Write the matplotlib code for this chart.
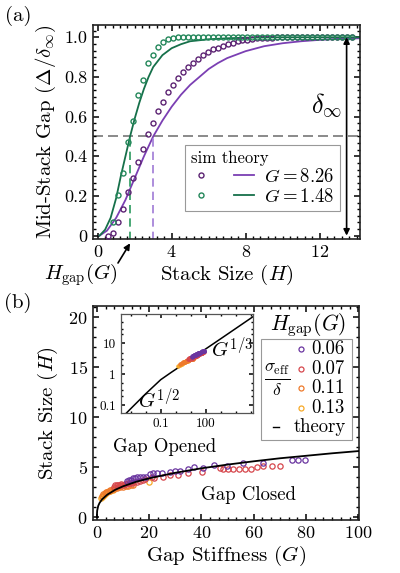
import matplotlib
matplotlib.use("Agg")
import matplotlib.pyplot as plt
from matplotlib.legend_handler import HandlerTuple
from matplotlib.lines import Line2D
from matplotlib.patches import Rectangle
from matplotlib.ticker import MultipleLocator, FixedLocator, NullFormatter

plt.rcParams['font.family'] = ['cmr10', 'DejaVu Serif']
plt.rcParams['mathtext.fontset'] = 'cm'
plt.rcParams['axes.formatter.use_mathtext'] = True
plt.rcParams['axes.unicode_minus'] = False

# ---------------- Panel (a) data ----------------
purple_H = [0.54, 0.81, 1.08, 1.35, 1.62, 1.89, 2.16, 2.43, 2.70, 2.97, 3.24, 3.51, 3.78, 4.05,
            4.32, 4.59, 4.86, 5.13, 5.40, 5.67, 5.94, 6.21, 6.48, 6.75, 7.02, 7.29, 7.56, 7.83,
            8.10, 8.37, 8.64, 8.91, 9.18, 9.45, 9.72, 9.99, 10.26, 10.53, 10.80, 11.07, 11.34,
            11.61, 11.88, 12.15, 12.42, 12.69, 12.96, 13.23, 13.50, 13.77]
purple_gap = [0.0, 0.015, 0.067, 0.133, 0.220, 0.291, 0.373, 0.439, 0.511, 0.567, 0.630, 0.676,
              0.723, 0.760, 0.793, 0.823, 0.849, 0.872, 0.892, 0.912, 0.927, 0.939, 0.948, 0.958,
              0.966, 0.973, 0.979, 0.984, 0.988, 0.991, 0.994, 0.996, 0.997, 0.998, 0.999, 1.0,
              1.0, 1.0, 1.0, 1.0, 1.0, 1.0, 1.0, 1.0, 1.0, 1.0, 1.0, 1.0, 1.0, 1.0]
green_H = [0.81, 1.08, 1.35, 1.62, 1.89, 2.16, 2.43, 2.70, 2.97, 3.24, 3.51, 3.78, 4.05,
           4.32, 4.59, 4.86, 5.13, 5.40, 5.67, 5.94, 6.21, 6.48, 6.75, 7.02, 7.29, 7.56, 7.83,
           8.10, 8.37, 8.64, 8.91, 9.18, 9.45, 9.72, 9.99, 10.26, 10.53, 10.80, 11.07, 11.34,
           11.61, 11.88, 12.15, 12.42, 12.69, 12.96, 13.23, 13.50, 13.77]
green_gap = [0.071, 0.205, 0.314, 0.474, 0.578, 0.708, 0.783, 0.869, 0.911, 0.953, 0.976, 0.990,
             0.997, 1.0, 1.0, 1.0, 1.0, 1.0, 1.0, 1.0, 1.0, 1.0, 1.0, 1.0, 1.0, 1.0, 1.0, 1.0,
             1.0, 1.0, 1.0, 1.0, 1.0, 1.0, 1.0, 1.0, 1.0, 1.0, 1.0, 1.0, 1.0, 1.0, 1.0, 1.0,
             1.0, 1.0, 1.0, 1.0, 1.0]
purple_th_H = [0.1, 0.5, 1.0, 1.5, 2.0, 2.5, 3.0, 3.5, 4.0, 4.5, 5.0, 5.5, 6.0, 6.5, 7.0, 8.0,
               9.0, 10.0, 11.0, 12.0, 13.0, 14.2]
purple_th = [0.0, 0.025, 0.09, 0.18, 0.29, 0.40, 0.50, 0.58, 0.65, 0.71, 0.76, 0.80, 0.84, 0.87,
             0.895, 0.93, 0.955, 0.97, 0.98, 0.987, 0.992, 0.995]
green_th_H = [0.1, 0.4, 0.7, 1.0, 1.25, 1.5, 1.75, 2.0, 2.25, 2.5, 2.75, 3.0, 3.5, 4.0, 4.5,
              5.0, 6.0, 7.0, 8.0, 10.0, 12.0, 14.2]
green_th = [0.0, 0.03, 0.09, 0.19, 0.30, 0.40, 0.50, 0.59, 0.67, 0.74, 0.80, 0.85, 0.91, 0.945,
            0.965, 0.98, 0.99, 0.995, 0.998, 1.0, 1.0, 1.0]
G_values = ['8.26', '1.48']
Hgap_purple = 2.98
Hgap_green = 1.75

# ---------------- Panel (b) data ----------------
p06_G = [11.5, 12.4, 13.2, 13.9, 14.6, 15.2, 16.5, 17.7, 18.8, 20.3, 21.6, 23.0, 24.8, 27.9,
         29.9, 31.8, 34.9, 37.2, 40.7, 44.8, 49.6, 56.0, 63.6, 74.5, 77.0, 79.6]
p06_H = [3.6, 3.73, 3.75, 3.9, 3.9, 4.06, 4.06, 4.06, 4.06, 4.3, 4.4, 4.4, 4.4, 4.56,
         4.66, 4.66, 4.83, 5.0, 4.93, 5.2, 5.16, 5.46, 5.45, 5.73, 5.73, 5.73]
p07_G = [6.5, 7.0, 7.5, 8.2, 8.8, 9.4, 10.0, 10.7, 11.3, 12.0, 12.6, 13.5, 14.2, 15.2, 16.5,
         17.7, 18.4, 20.9, 22.0, 25.4, 27.9, 31.1, 34.9, 40.1, 47.1, 48.3, 50.0, 52.2, 54.3,
         56.6, 58.8, 61.1, 63.6, 66.9, 70.0]
p07_H = [3.0, 3.2, 3.23, 3.23, 3.25, 3.3, 3.2, 3.3, 3.35, 3.4, 3.4, 3.45, 3.5, 3.56, 3.6,
         3.73, 3.8, 4.0, 3.9, 4.0, 4.23, 4.23, 4.46, 4.56, 4.9, 4.83, 4.83, 4.83, 4.83,
         4.83, 4.83, 5.06, 5.13, 5.1, 5.1]
p11_G = [2.0, 2.5, 3.0, 3.5, 4.0, 4.5, 5.0, 5.5, 6.0, 6.5, 7.0, 7.5, 8.0, 9.0, 10.0, 11.0,
         12.0, 13.0, 14.0]
p11_H = [2.1, 2.3, 2.4, 2.5, 2.55, 2.6, 2.7, 2.75, 2.8, 2.8, 2.9, 2.95, 3.0, 3.0, 3.05, 3.1,
         3.1, 3.2, 3.2]
p13_G = [1.5, 2.0, 2.3, 2.7, 3.0, 3.5, 4.0, 4.5, 5.0, 6.0, 20.0]
p13_H = [1.9, 2.0, 2.1, 2.2, 2.3, 2.4, 2.5, 2.6, 2.6, 2.7, 3.5]
theory_G = [1e-4, 1e-3, 1e-2, 0.1, 0.5, 1, 2, 4, 7, 10, 15, 20, 30, 40, 50, 60, 70, 80, 90,
            100, 1e3, 1e4, 1e5, 3e5]
theory_H = [0.024, 0.075, 0.23, 0.66, 1.14, 1.43, 1.8, 2.27, 2.75, 3.1, 3.55, 3.9, 4.45, 4.9,
            5.27, 5.6, 5.9, 6.15, 6.4, 6.62, 14.2, 30.6, 66.0, 95.0]
sigma_labels = ['0.06', '0.07', '0.11', '0.13']

c_purple_sim = '#5c2373'
c_purple_th = '#7b3fb3'
c_purple_dash = '#a07ad6'
c_green_sim = '#23875a'
c_green_th = '#16704a'
c_green_dash = '#2a9a5e'
sig_colors = ['#6a35a0', '#d6474d', '#ee7a2c', '#f7a928']

fig = plt.figure(figsize=(4.0, 5.73), dpi=100)


def style_frame(ax, lw=1.2, color='#222222'):
    for s in ax.spines.values():
        s.set_linewidth(lw)
        s.set_color(color)
    ax.tick_params(which='both', direction='in', top=True, right=True, colors='black',
                   labelsize=13)
    ax.tick_params(which='major', length=4, width=1.1)
    ax.tick_params(which='minor', length=2, width=1.0)


# ================= Panel (a) =================
axa = fig.add_axes([0.2318, 0.5829, 0.668, 0.3735])
axa.plot(purple_H, purple_gap, 'o', ms=3.6, mfc='none', mec=c_purple_sim, mew=1.0, zorder=3)
axa.plot(green_H, green_gap, 'o', ms=3.6, mfc='none', mec=c_green_sim, mew=1.0, zorder=3)
lp, = axa.plot(purple_th_H, purple_th, '-', color=c_purple_th, lw=1.3, zorder=2)
lg, = axa.plot(green_th_H, green_th, '-', color=c_green_th, lw=1.3, zorder=2)
axa.axhline(0.5, color='#777777', ls=(0, (6, 3)), lw=1.2, zorder=1)
axa.plot([Hgap_green, Hgap_green], [-0.02, 0.5], color=c_green_dash, ls=(0, (5, 3)), lw=1.2)
axa.plot([Hgap_purple, Hgap_purple], [-0.02, 0.5], color=c_purple_dash, ls=(0, (5, 3)), lw=1.2)
axa.annotate('', xy=(13.46, 0.0), xytext=(13.46, 1.0),
             arrowprops=dict(arrowstyle='<|-|>', color='black', lw=1.2, mutation_scale=9,
                             shrinkA=0, shrinkB=0))
axa.text(12.35, 0.66, r'$\delta_\infty$', fontsize=19, ha='center', va='center')
axa.set_xlim(-0.27, 14.18)
axa.set_ylim(-0.017, 1.062)
axa.xaxis.set_major_locator(FixedLocator([0, 4, 8, 12]))
axa.xaxis.set_minor_locator(MultipleLocator(0.4))
axa.yaxis.set_major_locator(FixedLocator([0, 0.2, 0.4, 0.6, 0.8, 1.0]))
axa.yaxis.set_minor_locator(MultipleLocator(0.2 / 6))
axa.set_yticklabels(['0', '0.2', '0.4', '0.6', '0.8', '1.0'])
style_frame(axa)
axa.set_xlabel(r'Stack Size $(H)$', fontsize=15, labelpad=2)
axa.set_ylabel(r'Mid-Stack Gap $(\Delta/\delta_\infty)$', fontsize=15, labelpad=5)

ms_p = Line2D([], [], ls='none', marker='o', ms=3.6, mfc='none', mec=c_purple_sim, mew=1.0)
ms_g = Line2D([], [], ls='none', marker='o', ms=3.6, mfc='none', mec=c_green_sim, mew=1.0)
leg = axa.legend([(ms_p, lp), (ms_g, lg)], [r'$G = %s$' % G_values[0], r'$G = %s$' % G_values[1]],
                 handler_map={tuple: HandlerTuple(ndivide=None, pad=1.2)},
                 loc='lower left', bbox_to_anchor=(0.31, 0.085), fontsize=13.5,
                 title='sim theory', title_fontsize=12, alignment='left',
                 handlelength=3.4, handletextpad=0.5, borderpad=0.3, labelspacing=0.1,
                 frameon=True, fancybox=False, framealpha=1, edgecolor='#999999')
leg.get_frame().set_linewidth(0.8)

# H_gap arrow + label
fig.text(80.6 / 400, 1 - 275 / 573, r'$H_{\rm gap}(G)$', fontsize=15, ha='center', va='center')
axa.annotate('', xy=(Hgap_green, -0.02), xycoords=('data', 'axes fraction'),
             xytext=(118 / 400, 1 - 263 / 573), textcoords='figure fraction',
             arrowprops=dict(arrowstyle='-|>', color='black', lw=1.2, mutation_scale=9,
                             shrinkA=0, shrinkB=0))
fig.text(18 / 400, 1 - 16 / 573, '(a)', fontsize=15, ha='center', va='center')

# ================= Panel (b) =================
axb = fig.add_axes([0.2318, 0.0925, 0.6665, 0.3735])
axb.plot(theory_G, theory_H, '-', color='black', lw=1.3, zorder=4)
series = [(p06_G, p06_H), (p07_G, p07_H), (p11_G, p11_H), (p13_G, p13_H)]
for (gx, hy), col in list(zip(series, sig_colors))[::-1]:
    axb.plot(gx, hy, 'o', ms=3.8, mfc='none', mec=col, mew=0.9, zorder=3)
axb.set_xlim(-1.6, 100.4)
axb.set_ylim(-0.27, 21.13)
axb.xaxis.set_major_locator(FixedLocator([0, 20, 40, 60, 80, 100]))
axb.xaxis.set_minor_locator(MultipleLocator(20 / 6))
axb.yaxis.set_major_locator(FixedLocator([0, 5, 10, 15, 20]))
axb.yaxis.set_minor_locator(MultipleLocator(1))
style_frame(axb)
axb.set_xlabel(r'Gap Stiffness $(G)$', fontsize=15, labelpad=2)
axb.set_ylabel(r'Stack Size $(H)$', fontsize=15, labelpad=6)
axb.text(0.583, 0.117, 'Gap Closed', fontsize=13.5, ha='center', va='center',
         transform=axb.transAxes)
axb.text(0.271, 0.342, 'Gap Opened', fontsize=13.5, ha='center', va='center',
         transform=axb.transAxes)
fig.text(18 / 400, 1 - 303 / 573, '(b)', fontsize=15, ha='center', va='center')

# legend (b) drawn by hand
axb.add_patch(Rectangle((0.630, 0.374), 0.342, 0.470, transform=axb.transAxes,
                        fill=True, facecolor='white', edgecolor='#999999', lw=0.8, zorder=5))
axb.text(0.808, 0.911, r'$H_{\rm gap}(G)$', fontsize=15.5, ha='center', va='center',
         transform=axb.transAxes, zorder=6)
rows_y = [0.798, 0.704, 0.615, 0.522]
for lab, col, yy in zip(sigma_labels, sig_colors, rows_y):
    axb.plot([0.780], [yy], 'o', ms=3.6, mfc='none', mec=col, mew=0.9,
             transform=axb.transAxes, zorder=6)
    axb.text(0.818, yy, lab, fontsize=13.5, ha='left', va='center',
             transform=axb.transAxes, zorder=6)
axb.plot([0.675, 0.700], [0.436, 0.436], color='black', lw=1.0, transform=axb.transAxes,
         zorder=6)
axb.text(0.752, 0.436, 'theory', fontsize=13.5, ha='left', va='center',
         transform=axb.transAxes, zorder=6)
axb.text(0.690, 0.654, r'$\frac{\sigma_{\rm eff}}{\delta}$', fontsize=18, ha='center',
         va='center', transform=axb.transAxes, zorder=6)

# ================= Inset =================
axi = fig.add_axes([0.302, 0.2798, 0.3315, 0.1723])
axi.plot(theory_G, theory_H, '-', color='black', lw=1.1, zorder=2)
for (gx, hy), col in list(zip(series, sig_colors))[::-1]:
    axi.plot(gx, hy, 'o', ms=2.4, mfc=col, mec=col, mew=0.8, zorder=3)
axi.set_xscale('log')
axi.set_yscale('log')
axi.set_xlim(10 ** -3.65, 10 ** 5.15)
axi.set_ylim(10 ** -1.25, 10 ** 1.95)
axi.xaxis.set_major_locator(FixedLocator([0.1, 100]))
axi.xaxis.set_minor_locator(FixedLocator([1e-3, 1e-2, 1, 10, 1e3, 1e4, 1e5]))
axi.xaxis.set_minor_formatter(NullFormatter())
axi.yaxis.set_major_locator(FixedLocator([0.1, 1, 10]))
axi.yaxis.set_minor_locator(FixedLocator([0.2, 0.3, 0.5, 2, 3, 5, 20, 30, 50]))
axi.yaxis.set_minor_formatter(NullFormatter())
axi.set_xticklabels(['0.1', '100'])
axi.set_yticklabels(['0.1', '1', '10'])
style_frame(axi, lw=0.9, color='#555555')
axi.tick_params(which='both', labelsize=9.5)
axi.tick_params(which='major', length=3)
axi.tick_params(which='minor', length=1.5)
axi.text(0.29, 0.13, r'$G^{1/2}$', fontsize=15, ha='center', va='center',
         transform=axi.transAxes)
axi.text(0.84, 0.645, r'$G^{1/3}$', fontsize=15, ha='center', va='center',
         transform=axi.transAxes)

fig.savefig('out.png', dpi=100)
